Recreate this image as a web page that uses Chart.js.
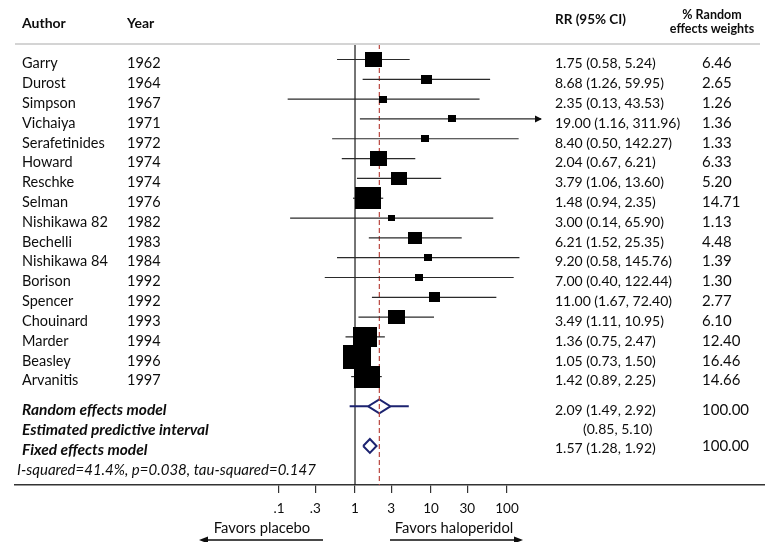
<!DOCTYPE html>
<html><head><meta charset="utf-8">
<script src="https://cdn.jsdelivr.net/npm/chart.js@4/dist/chart.umd.min.js"></script>
<style>html,body{margin:0;padding:0;background:#fff}canvas{display:block}</style>
</head><body>
<canvas id="c" width="765" height="542"></canvas>
<script>
// ---------- DATA ----------
const authors = ['Garry','Durost','Simpson','Vichaiya','Serafetinides','Howard','Reschke','Selman','Nishikawa 82','Bechelli','Nishikawa 84','Borison','Spencer','Chouinard','Marder','Beasley','Arvanitis'];
const years = [1962,1964,1967,1971,1972,1974,1974,1976,1982,1983,1984,1992,1992,1993,1994,1996,1997];
const rr      = [1.75, 8.68, 2.35, 19.00, 8.40, 2.04, 3.79, 1.48, 3.00, 6.21, 9.20, 7.00, 11.00, 3.49, 1.36, 1.05, 1.42];
const ciLow   = [0.58, 1.26, 0.13, 1.16, 0.50, 0.67, 1.06, 0.94, 0.14, 1.52, 0.58, 0.40, 1.67, 1.11, 0.75, 0.73, 0.89];
const ciHigh  = [5.24, 59.95, 43.53, 311.96, 142.27, 6.21, 13.60, 2.35, 65.90, 25.35, 145.76, 122.44, 72.40, 10.95, 2.47, 1.50, 2.25];
const weights = [6.46, 2.65, 1.26, 1.36, 1.33, 6.33, 5.20, 14.71, 1.13, 4.48, 1.39, 1.30, 2.77, 6.10, 12.40, 16.46, 14.66];
const summaryLabels = ['Random effects model','Estimated predictive interval','Fixed effects model'];
const randomModel = [2.09, 1.49, 2.92];   // estimate, low, high
const predictive = [0.85, 5.10];
const fixedModel = [1.57, 1.28, 1.92];
const summaryWeights = [100.00, null, 100.00];
const heterogeneity = 'I-squared=41.4%, p=0.038, tau-squared=0.147';
const headers = ['Author','Year','RR (95% CI)'];
const weightHeader = ['% Random','effects weights'];
const tickValues = [0.1, 0.3, 1, 3, 10, 30, 100];
const tickLabels = ['.1','.3','1','3','10','30','100'];
const axisCaptions = ['Favors placebo','Favors haloperidol'];

// ---------- DISPLAY SETTINGS ----------
const xMin = 3.359e-5, xMax = 2.481e5;      // log axis extent across full width
const yMin = -0.782, yMax = 21.47;          // row axis extent
const ciClip = 280;                          // CIs beyond this get an arrow
const rowRandom = 17.5, rowPred = 18.5, rowFixed = 19.5, rowHet = 20.5;
const dh = 0.35;                             // diamond half height in rows
const FONT = 'Lato, "Open Sans", sans-serif';
const NAVY = '#1c2370';
const INK = '#0d0d0d';

function boxImage(w) {
  const c = document.createElement('canvas');
  const bw = Math.max(6, Math.round(6.8 * Math.sqrt(w)));
  const bh = Math.max(5, Math.round(5.8 * Math.sqrt(w)));
  c.width = bw; c.height = bh;
  const g = c.getContext('2d');
  g.fillStyle = '#000'; g.fillRect(0, 0, bw, bh);
  return c;
}

const datasets = [];
datasets.push({
  data: rr.map((v, i) => ({x: v, y: i})),
  pointStyle: weights.map(boxImage),
  pointRadius: weights.map(w => 3 * Math.sqrt(w)),
  showLine: false, order: 1
});
rr.forEach((v, i) => {
  datasets.push({
    data: [{x: ciLow[i], y: i}, {x: Math.min(ciHigh[i], ciClip), y: i}],
    showLine: true, borderColor: '#2a2a2a', borderWidth: 1.2, pointRadius: 0, order: 2
  });
});
datasets.push({
  data: [{x: randomModel[0], y: yMin}, {x: randomModel[0], y: yMax}],
  showLine: true, borderColor: '#b9463e', borderWidth: 1.2, borderDash: [5, 3], pointRadius: 0, order: 3
});
datasets.push({
  data: [{x: predictive[0], y: rowRandom}, {x: randomModel[1], y: rowRandom}, {x: randomModel[0], y: rowRandom - dh},
         {x: randomModel[2], y: rowRandom}, {x: predictive[1], y: rowRandom}],
  showLine: true, borderColor: NAVY, borderWidth: 2, pointRadius: 0, order: 4
});
datasets.push({
  data: [{x: randomModel[1], y: rowRandom}, {x: randomModel[0], y: rowRandom + dh}, {x: randomModel[2], y: rowRandom}],
  showLine: true, borderColor: NAVY, borderWidth: 2, pointRadius: 0, order: 4
});
datasets.push({
  data: [{x: fixedModel[1], y: rowFixed}, {x: fixedModel[0], y: rowFixed - dh}, {x: fixedModel[2], y: rowFixed},
         {x: fixedModel[0], y: rowFixed + dh}, {x: fixedModel[1], y: rowFixed}],
  showLine: true, borderColor: NAVY, borderWidth: 2, pointRadius: 0, order: 4
});
datasets.push({
  data: [{x: 1, y: yMin}, {x: 1, y: yMax}],
  showLine: true, borderColor: '#1a1a1a', borderWidth: 1.2, pointRadius: 0, order: 5
});

const f2 = v => v.toFixed(2);

const forestText = {
  id: 'forestText',
  afterDraw(chart) {
    const ctx = chart.ctx, ys = chart.scales.y, xs = chart.scales.x;
    ctx.save();
    const top = ys.getPixelForValue(yMin);
    ctx.strokeStyle = '#d4d4d4'; ctx.lineWidth = 2;
    ctx.beginPath(); ctx.moveTo(15, top); ctx.lineTo(760, top); ctx.stroke();

    ctx.fillStyle = INK;
    ctx.textBaseline = 'alphabetic';
    ctx.textAlign = 'left';
    ctx.font = 'bold 14px ' + FONT;
    ctx.fillText(headers[0], 22, 28);
    ctx.fillText(headers[1], 127, 28);
    ctx.font = 'bold 13.5px ' + FONT;
    ctx.fillText(headers[2], 555, 24);
    ctx.font = 'bold 12.5px ' + FONT;
    ctx.textAlign = 'center';
    ctx.fillText(weightHeader[0], 712, 18.5);
    ctx.fillText(weightHeader[1], 712, 33);

    ctx.textAlign = 'left';
    rr.forEach((v, i) => {
      const py = ys.getPixelForValue(i) + 8.8;
      ctx.font = '14.5px ' + FONT;
      ctx.fillText(authors[i], 22, py);
      ctx.fillText(String(years[i]), 127, py);
      ctx.font = '15px ' + FONT;
      ctx.fillText(f2(weights[i]), 702, py);
      ctx.font = '14px ' + FONT;
      ctx.fillText(`${f2(v)} (${f2(ciLow[i])}, ${f2(ciHigh[i])})`, 555, py);
    });

    [rowRandom, rowPred, rowFixed].forEach((r, k) => {
      ctx.font = 'italic bold 15.5px ' + FONT;
      ctx.fillText(summaryLabels[k], 22, ys.getPixelForValue(r) + 9);
    });
    ctx.font = '14px ' + FONT;
    ctx.fillText(`${f2(randomModel[0])} (${f2(randomModel[1])}, ${f2(randomModel[2])})`, 555, ys.getPixelForValue(rowRandom) + 8.3);
    ctx.fillText(`(${f2(predictive[0])}, ${f2(predictive[1])})`, 583, ys.getPixelForValue(rowPred) + 8.3);
    ctx.fillText(`${f2(fixedModel[0])} (${f2(fixedModel[1])}, ${f2(fixedModel[2])})`, 555, ys.getPixelForValue(rowFixed) + 7.5);
    ctx.font = '15px ' + FONT;
    ctx.fillText(f2(summaryWeights[0]), 702, ys.getPixelForValue(rowRandom) + 8.3);
    ctx.fillText(f2(summaryWeights[2]), 702, ys.getPixelForValue(rowFixed) + 5);

    ctx.font = 'italic 15px ' + FONT;
    ctx.fillText(heterogeneity, 17, ys.getPixelForValue(rowHet) + 9);

    ciHigh.forEach((h, i) => {
      if (h > ciClip) {
        const tx = xs.getPixelForValue(ciClip), ty = ys.getPixelForValue(i);
        ctx.beginPath(); ctx.moveTo(tx + 1, ty); ctx.lineTo(tx - 6, ty - 3.5); ctx.lineTo(tx - 6, ty + 3.5); ctx.closePath(); ctx.fill();
      }
    });

    ctx.textAlign = 'center';
    ctx.font = '14.8px ' + FONT;
    ctx.fillText(axisCaptions[0], 262, 533);
    ctx.fillText(axisCaptions[1], 454, 533);
    ctx.strokeStyle = INK; ctx.lineWidth = 1.5;
    ctx.beginPath(); ctx.moveTo(323, 540); ctx.lineTo(204, 540); ctx.stroke();
    ctx.beginPath(); ctx.moveTo(390, 540); ctx.lineTo(518, 540); ctx.stroke();
    ctx.beginPath(); ctx.moveTo(199, 540); ctx.lineTo(208, 536.5); ctx.lineTo(208, 543.5); ctx.closePath(); ctx.fill();
    ctx.beginPath(); ctx.moveTo(523, 540); ctx.lineTo(514, 536.5); ctx.lineTo(514, 543.5); ctx.closePath(); ctx.fill();
    ctx.restore();
  }
};

new Chart(document.getElementById('c'), {
  type: 'scatter',
  data: { datasets },
  plugins: [forestText],
  options: {
    responsive: false, animation: false, devicePixelRatio: 1,
    layout: { autoPadding: false, padding: { top: 44, left: 15, right: 0, bottom: 0 } },
    plugins: { legend: { display: false }, tooltip: { enabled: false } },
    scales: {
      x: {
        type: 'logarithmic', position: 'bottom', min: xMin, max: xMax, bounds: 'data',
        afterBuildTicks: s => { s.ticks = tickValues.map(v => ({ value: v })); },
        afterFit: s => { s.height = 57; },
        ticks: { autoSkip: false, maxRotation: 0, padding: 8, color: INK,
                 font: { family: FONT, size: 13.5 },
                 callback: (v, i) => tickLabels[i] },
        grid: { drawOnChartArea: false, drawTicks: true, tickLength: 8, color: '#333', lineWidth: 1.2 },
        border: { display: true, color: '#333', width: 1.5 }
      },
      y: { type: 'linear', reverse: true, min: yMin, max: yMax, bounds: 'data', display: false }
    }
  }
});
</script>
</body></html>
